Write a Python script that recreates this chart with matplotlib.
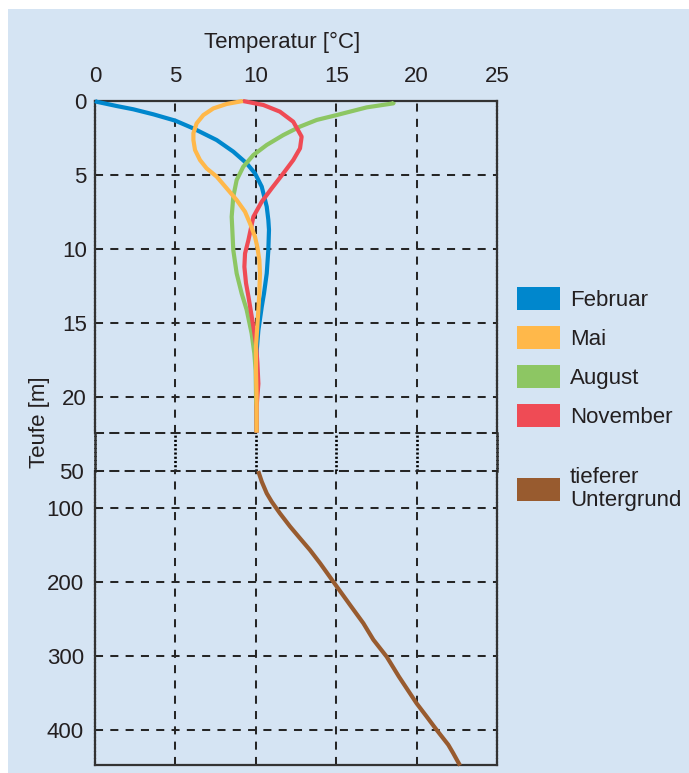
import matplotlib
matplotlib.use("Agg")
import matplotlib.pyplot as plt
from matplotlib.patches import Rectangle, Patch

plt.rcParams['font.family'] = ['Liberation Sans', 'DejaVu Sans']

# ---------------- data ----------------
feb_depth = [0, 0.05, 0.34, 0.56, 0.9, 1.33, 1.85, 2.64, 3.42, 4.21, 4.89, 5.79, 7.14, 8.04, 8.7, 10.07, 11.65, 13.0, 13.9, 15.5, 16.8, 18.5, 20.5, 22.4]
feb_temp = [0, 0.1, 1.35, 2.38, 3.63, 5.0, 6.11, 7.57, 8.6, 9.43, 9.95, 10.37, 10.68, 10.78, 10.82, 10.78, 10.68, 10.51, 10.37, 10.16, 10.06, 10.02, 10.03, 10.05]

mai_depth = [0, 0.2, 0.5, 0.95, 1.51, 2.18, 2.64, 3.31, 3.99, 4.55, 5.11, 5.9, 6.69, 7.48, 8.27, 9.17, 9.84, 10.74, 11.65, 13.0, 14.1, 16.6, 18.2, 20.0, 22.4]
mai_temp = [9.2, 8.19, 7.36, 6.74, 6.32, 6.12, 6.12, 6.22, 6.53, 6.94, 7.57, 8.19, 8.81, 9.33, 9.64, 9.95, 10.09, 10.22, 10.26, 10.22, 10.16, 10.01, 10.01, 10.05, 10.05]

aug_depth = [0.05, 0.16, 0.43, 0.95, 1.28, 1.73, 2.3, 2.97, 3.65, 4.44, 5.34, 6.46, 7.82, 8.7, 10.07, 11.65, 13.0, 14.1, 15.7, 17.05, 18.2, 22.4]
aug_temp = [18.6, 18.55, 16.9, 15.03, 13.79, 12.75, 11.71, 10.68, 9.85, 9.22, 8.81, 8.6, 8.5, 8.54, 8.6, 8.81, 9.12, 9.43, 9.74, 9.91, 9.99, 10.05]

nov_depth = [0, 0.27, 0.72, 1.4, 2.41, 3.2, 3.99, 4.89, 5.9, 6.8, 7.82, 9.4, 10.3, 11.2, 12.3, 13.2, 15.25, 16.4, 17.7, 19.1, 20.65, 22.4]
nov_temp = [9.2, 10.47, 11.5, 12.33, 12.85, 12.75, 12.33, 11.71, 10.99, 10.37, 9.85, 9.54, 9.33, 9.29, 9.39, 9.54, 9.85, 10.01, 10.1, 10.16, 10.05, 10.05]

deep_depth = [50, 64.4, 80.2, 91.5, 107.2, 125, 141, 156.8, 174.7, 206, 231, 255.8, 278, 301, 327.9, 364, 382, 400, 420, 431.5, 448]
deep_temp = [10.15, 10.37, 10.68, 10.99, 11.5, 12.13, 12.75, 13.37, 14.0, 15.03, 15.86, 16.69, 17.31, 18.14, 18.9, 20.0, 20.63, 21.25, 21.97, 22.28, 22.7]

x_ticks = [0, 5, 10, 15, 20, 25]
y_ticks_upper = [0, 5, 10, 15, 20]
y_ticks_lower = [50, 100, 200, 300, 400]

labels = ['Februar', 'Mai', 'August', 'November']
deep_label = 'tieferer\nUntergrund'

c_feb = '#0087cd'
c_mai = '#ffb84a'
c_aug = '#8dc663'
c_nov = '#ef4b55'
c_deep = '#985b2f'
bg = '#d5e4f3'
ink = '#231f20'
gridc = '#262626'
FS = 16

# ---------------- figure ----------------
W, H = 689, 773
fig = plt.figure(figsize=(W / 100, H / 100), dpi=100)
fig.patch.set_facecolor('white')
fig.add_artist(Rectangle((8 / W, 0), 1, 1 - 9 / H, transform=fig.transFigure,
                         facecolor=bg, edgecolor='none', zorder=-10))

def fx(px):
    return px / W

def fy(py):
    return 1 - py / H

L, R = 95, 497
top_u, bot_u = 101, 433
top_l, bot_l = 471, 765

ax_u = fig.add_axes([fx(L), fy(bot_u), fx(R) - fx(L), fy(top_u) - fy(bot_u)])
ax_g = fig.add_axes([fx(L), fy(top_l), fx(R) - fx(L), fy(bot_u) - fy(top_l)])
ax_l = fig.add_axes([fx(L), fy(bot_l), fx(R) - fx(L), fy(top_l) - fy(bot_l)])

dash = (0, (4, 3.6))
dots = (0, (0.8, 0.8))
lw_grid = 1.45

for ax in (ax_u, ax_g, ax_l):
    ax.set_facecolor('none')
    ax.set_xlim(0, 25)
    ax.set_xticks(x_ticks)
    ax.tick_params(length=0, labelsize=FS, colors=ink)
    for s in ('left', 'right'):
        ax.spines[s].set_color('#333333')
        ax.spines[s].set_linewidth(1.6)
        ax.spines[s].set_linestyle((0, (1, 0.6)))

# upper axis
ax_u.set_ylim(22.43, 0)
ax_u.set_yticks(y_ticks_upper)
ax_u.xaxis.tick_top()
ax_u.tick_params(axis='x', pad=10)
ax_u.tick_params(axis='y', pad=6)
ax_u.spines['top'].set_color('#333333')
ax_u.spines['top'].set_linewidth(1.6)
ax_u.spines['bottom'].set_color(gridc)
ax_u.spines['bottom'].set_linewidth(lw_grid)
ax_u.spines['bottom'].set_linestyle(dash)
for v in x_ticks[1:-1]:
    ax_u.axvline(v, color=gridc, lw=lw_grid, ls=dash, zorder=1)
for v in y_ticks_upper[1:]:
    ax_u.axhline(v, color=gridc, lw=lw_grid, ls=dash, zorder=1)

# gap axis
ax_g.set_ylim(1, 0)
ax_g.set_yticks([])
ax_g.set_xticks([])
ax_g.spines['top'].set_visible(False)
ax_g.spines['bottom'].set_visible(False)
for s in ('left', 'right'):
    ax_g.spines[s].set_linestyle(dots)
    ax_g.spines[s].set_linewidth(1.8)
for v in x_ticks[1:-1]:
    ax_g.axvline(v, color='#000000', lw=1.9, ls=dots, zorder=1)

# lower axis
ax_l.set_ylim(447.3, 50)
ax_l.set_yticks(y_ticks_lower)
ax_l.set_xticks([])
ax_l.tick_params(axis='y', pad=8)
ax_l.spines['top'].set_color(gridc)
ax_l.spines['top'].set_linewidth(lw_grid)
ax_l.spines['top'].set_linestyle(dash)
ax_l.spines['bottom'].set_color('#333333')
ax_l.spines['bottom'].set_linewidth(1.6)
for v in x_ticks[1:-1]:
    ax_l.axvline(v, color=gridc, lw=lw_grid, ls=dash, zorder=1)
for v in y_ticks_lower[1:]:
    ax_l.axhline(v, color=gridc, lw=lw_grid, ls=dash, zorder=1)

# curves
lw = 3.0
kw = dict(lw=lw, zorder=3, clip_on=False, solid_joinstyle='round', solid_capstyle='butt')
ax_u.plot(feb_temp, feb_depth, color=c_feb, **kw)
ax_u.plot(aug_temp, aug_depth, color=c_aug, **kw)
ax_u.plot(nov_temp, nov_depth, color=c_nov, **kw)
ax_u.plot(mai_temp, mai_depth, color=c_mai, **kw)
ax_l.plot(deep_temp, deep_depth, color=c_deep, **kw)

# labels
fig.text(fx(282), fy(42), 'Temperatur [°C]', ha='center', va='center', fontsize=FS, color=ink)
fig.text(fx(40), fy(422), 'Teufe [m]', ha='center', va='center', rotation=90, fontsize=FS, color=ink)

# legends
handles = [Patch(facecolor=c, edgecolor='none') for c in (c_feb, c_mai, c_aug, c_nov)]
leg1 = fig.legend(handles, labels, loc='upper left', bbox_to_anchor=(fx(517), fy(287)),
                  frameon=False, fontsize=FS, handlelength=1.94, handleheight=1.22,
                  handletextpad=0.45, labelspacing=0.68, borderpad=0, borderaxespad=0)
for t in leg1.get_texts():
    t.set_color(ink)
leg2 = fig.legend([Patch(facecolor=c_deep, edgecolor='none')], [deep_label], loc='upper left',
                  bbox_to_anchor=(fx(517), fy(467)), frameon=False, fontsize=FS,
                  handlelength=1.94, handleheight=1.22, handletextpad=0.45,
                  borderpad=0, borderaxespad=0)
for t in leg2.get_texts():
    t.set_color(ink)
    t.set_linespacing(1.12)

fig.savefig('out.png', dpi=100)
